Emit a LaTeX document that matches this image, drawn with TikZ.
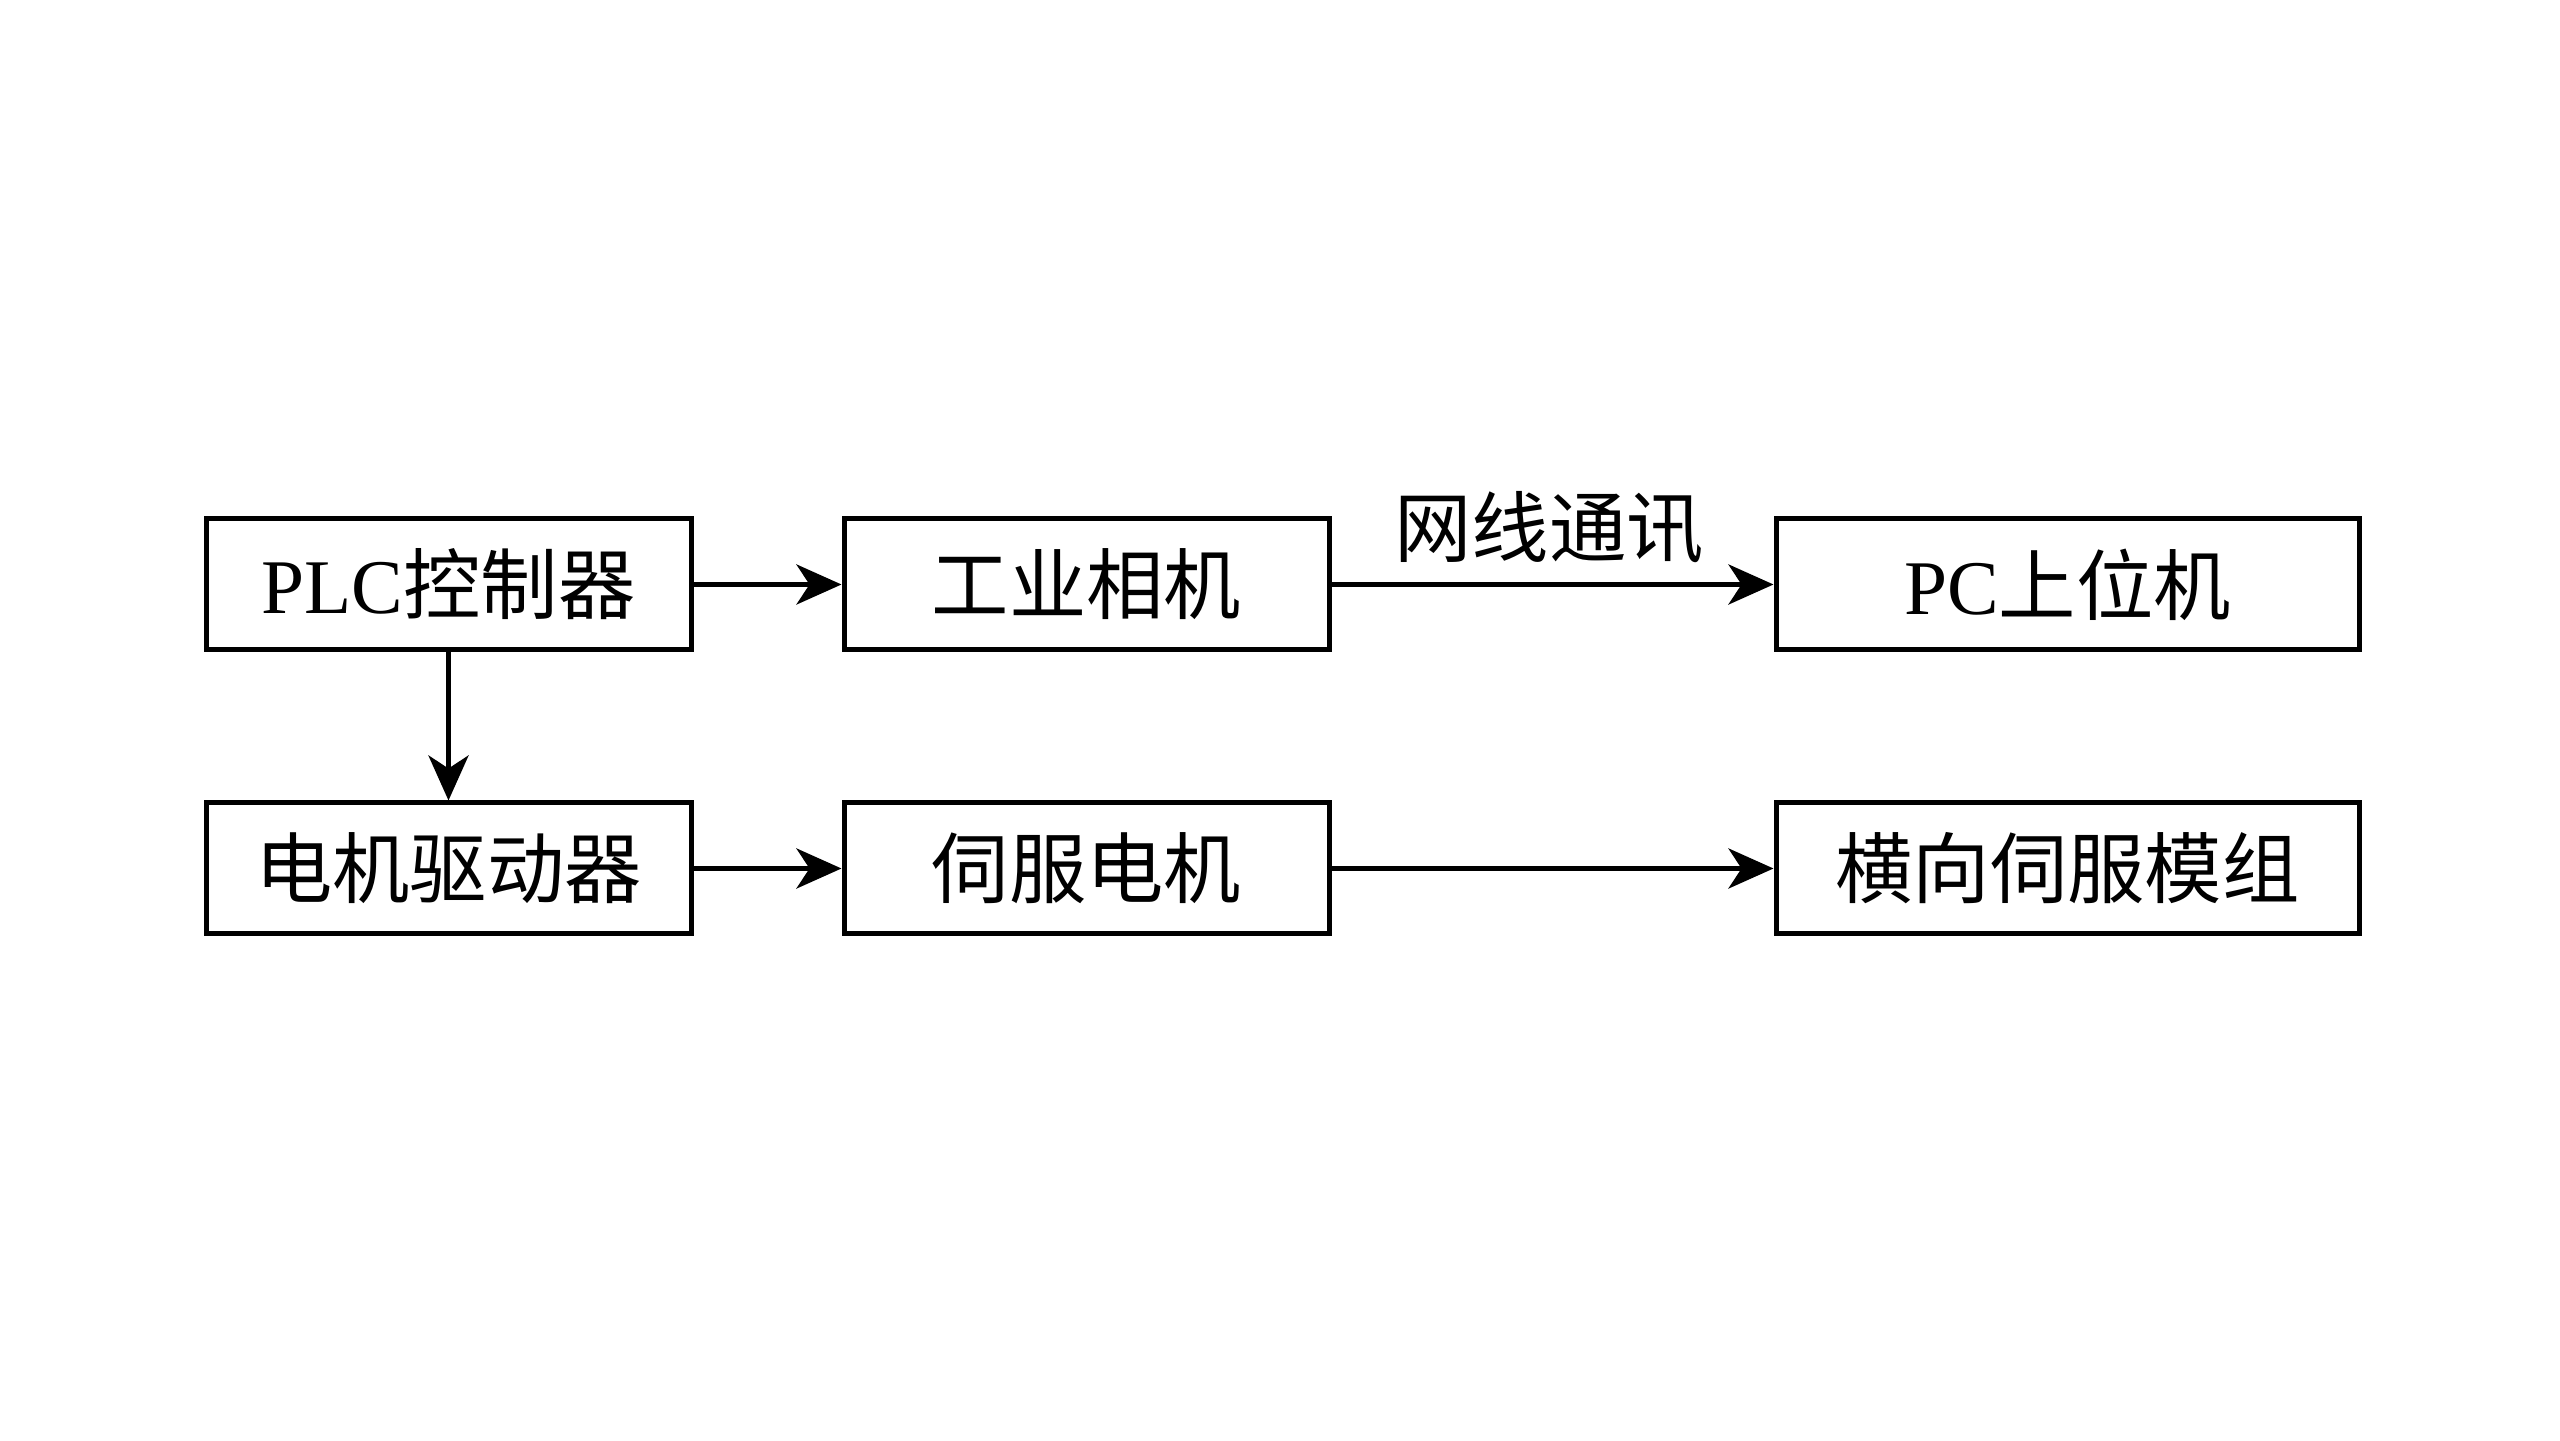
\documentclass[tikz,border=0pt]{standalone}
\usepackage{fontspec}
\setmainfont{Liberation Serif}
\newfontfamily\cjk{Noto Sans CJK SC}
\usetikzlibrary{arrows.meta}
\begin{document}
\begin{tikzpicture}[
  box/.style={draw, line width=0.5mm, minimum height=1.31cm, inner sep=0pt, font=\fontsize{22}{26}\selectfont},
  conn/.style={line width=0.5mm, -{Stealth[length=4.5mm,width=4mm,inset=1.3mm]}},
  lbl/.style={font=\fontsize{22}{26}\selectfont\cjk, inner sep=0pt}
]
\useasboundingbox (0,0) rectangle (25.6,14.4);
\node[box, minimum width=4.85cm] (plc) at (4.485,8.555) {PLC{\cjk 控制器}};
\node[box, minimum width=4.85cm] (cam) at (10.865,8.555) {\cjk 工业相机};
\node[box, minimum width=5.83cm] (pc) at (20.675,8.555) {PC{\cjk 上位机}};
\node[box, minimum width=4.85cm] (drv) at (4.485,5.715) {\cjk 电机驱动器};
\node[box, minimum width=4.85cm] (motor) at (10.865,5.715) {\cjk 伺服电机};
\node[box, minimum width=5.83cm] (mod) at (20.675,5.715) {\cjk 横向伺服模组};
\node[lbl] (net) at (15.49,9.12) {网线通讯};
\draw[conn] (plc) -- (cam);
\draw[conn] (cam) -- (pc);
\draw[conn] (plc) -- (drv);
\draw[conn] (drv) -- (motor);
\draw[conn] (motor) -- (mod);
\end{tikzpicture}
\end{document}
